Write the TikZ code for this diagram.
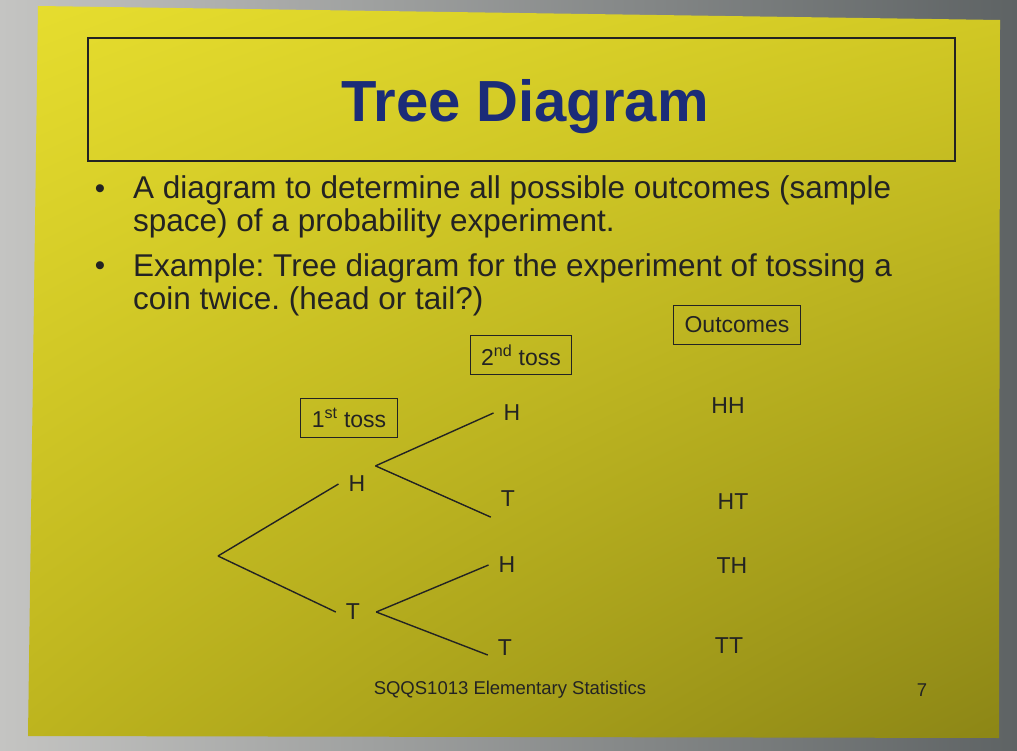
\documentclass[tikz,border=0pt]{standalone}
\usepackage{fontspec}
\setmainfont{Liberation Sans}
\frenchspacing
\usetikzlibrary{positioning, shadings}
\definecolor{inkgrey}{HTML}{232323}
\definecolor{titleblue}{HTML}{1B2C78}
\definecolor{yellowA}{HTML}{E6DD2E}
\definecolor{yellowB}{HTML}{D2C924}
\definecolor{yellowC}{HTML}{BDB41E}
\definecolor{yellowD}{HTML}{8C8616}
\definecolor{wallA}{HTML}{C4C4C2}
\definecolor{wallB}{HTML}{5E6364}

\begin{document}
\begin{tikzpicture}[
      x=1pt, y=-1pt,
      heading/.style={font=\fontsize{58}{64}\selectfont\bfseries, text=titleblue, anchor=base},
      bullettext/.style={font=\fontsize{31.5}{33}\selectfont, align=left, text=inkgrey, anchor=base west, inner sep=0pt},
      dot/.style={font=\fontsize{29.5}{33}\selectfont, text=inkgrey, anchor=base, inner sep=0pt},
      tossbox/.style={draw=inkgrey, line width=0.9pt, font=\fontsize{23}{26}\selectfont, text=inkgrey, minimum height=39pt, inner xsep=11pt},
      coin/.style={font=\fontsize{23}{26}\selectfont, text=inkgrey, inner sep=10pt},
      outcome/.style={font=\fontsize{23}{26}\selectfont, text=inkgrey},
      branch/.style={draw=inkgrey, line width=1.4pt},
      footer/.style={font=\fontsize{18.5}{20}\selectfont, text=inkgrey}
   ]
      \useasboundingbox (0,0) rectangle (1017,751);

      % Wall and slide
      \shade[left color=wallA, right color=wallB] (0,0) rectangle (1017,751);
      \shade[upper left=yellowA, upper right=yellowB, lower left=yellowC, lower right=yellowD]
         (38,6) -- (1000,20) -- (999,738) -- (28,736) -- cycle;

      % Title
      \node[draw=inkgrey, line width=1.3pt, minimum width=867pt, minimum height=123pt] (titlebox) at (521.5,99.5) {};
      \node[heading] (title) at (525,122) {Tree Diagram};

      % Bullet points (base = last line)
      \node[dot] (dot1) at (100,199) {•};
      \node[bullettext] (b1) at (133,232) {A diagram to determine all possible outcomes (sample\\space) of a probability experiment.};
      \node[dot] (dot2) at (100,276) {•};
      \node[bullettext] (b2) at (133,309) {Example: Tree diagram for the experiment of tossing a\\coin twice. (head or tail?)};

      % Column headings
      \node[tossbox] (first) at (349,418) {1\textsuperscript{st} toss};
      \node[tossbox] (second) at (521,355) {2\textsuperscript{nd} toss};
      \node[tossbox] (outcomes) at (737,325) {Outcomes};

      % Tree
      \coordinate (root) at (218,556);
      \node[coin] (h) at (357,484) {H};
      \node[coin] (t) at (353,612) {T};
      \node[coin] (hh) at (512,413) {H};
      \node[coin] (ht) at (508,499) {T};
      \node[coin] (th) at (507,565) {H};
      \node[coin] (tt) at (505,648) {T};

      \draw[branch] (root) -- (h.west);
      \draw[branch] (root) -- (t.west);
      \draw[branch] (h.north east) -- (hh.west);
      \draw[branch] (h.north east) -- (ht.south west);
      \draw[branch] ([xshift=6pt]t.east) -- (th.west);
      \draw[branch] ([xshift=6pt]t.east) -- ([yshift=-7pt]tt.west);

      % Outcomes
      \node[outcome] (oHH) at (728,406) {HH};
      \node[outcome] (oHT) at (733,502) {HT};
      \node[outcome] (oTH) at (732,566) {TH};
      \node[outcome] (oTT) at (729,646) {TT};

      % Footer
      \node[footer] (course) at (510,690) {SQQS1013 Elementary Statistics};
      \node[footer] (page) at (922,690) {7};
   \end{tikzpicture}
\end{document}
